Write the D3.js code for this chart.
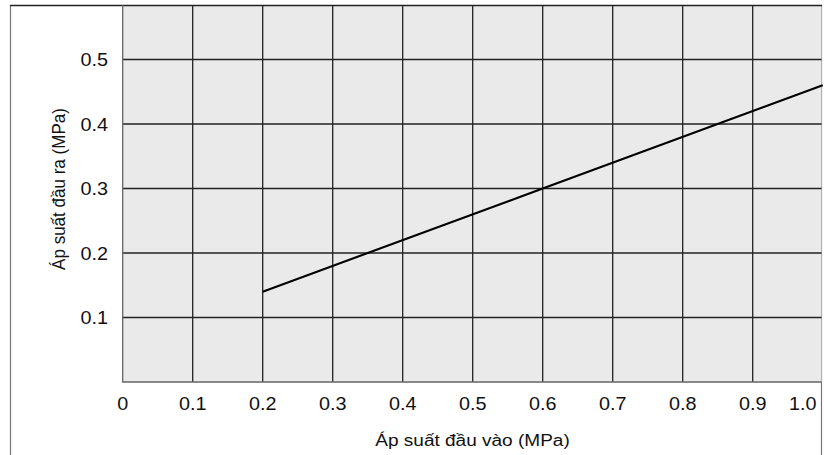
<!DOCTYPE html>
<html>
<head>
<meta charset="utf-8">
<script src="https://cdn.jsdelivr.net/npm/d3@7"></script>
<style>
  html, body { margin: 0; padding: 0; background: #fff; }
  svg { display: block; }
  text { font-family: "Liberation Sans", Arial, sans-serif; fill: #111; }
</style>
</head>
<body>
<svg id="chart" width="824" height="455"></svg>
<script>
// Data
const inputPressure = [0.2, 0.6, 1.0];      // MPa (x)
const outputPressure = [0.14, 0.30, 0.46];  // MPa (y)
const xTicks = [0, 0.1, 0.2, 0.3, 0.4, 0.5, 0.6, 0.7, 0.8, 0.9, 1.0];
const xTickLabels = ["0", "0.1", "0.2", "0.3", "0.4", "0.5", "0.6", "0.7", "0.8", "0.9", "1.0"];
const yTicks = [0.1, 0.2, 0.3, 0.4, 0.5];
const yTickLabels = ["0.1", "0.2", "0.3", "0.4", "0.5"];
const xTitle = "Áp suất đầu vào (MPa)";
const yTitle = "Áp suất đầu ra (MPa)";

const svg = d3.select("#chart");
const pLeft = 122.7, pRight = 822.7, pTop = 5, pBottom = 382, frameRight = 821.5;
const stretch = 1.1; // glyphs in the reference are slightly wider than tall

const x = d3.scaleLinear().domain([0, 1.0]).range([pLeft, pRight]);
const y = d3.scaleLinear().domain([0, 0.1]).range([pBottom, pBottom - 64.5]);

// outer frame
svg.append("path")
  .attr("d", `M10.5,455 V5.5 H${frameRight} V455`)
  .attr("fill", "none").attr("stroke", "#777").attr("stroke-width", 1.2);

// plot background
svg.append("rect")
  .attr("x", pLeft).attr("y", pTop)
  .attr("width", frameRight - pLeft).attr("height", pBottom - pTop)
  .attr("fill", "#e9eae9");

// grid: vertical
svg.append("g").selectAll("line")
  .data(xTicks.filter(d => d > 0 && d < 1.0))
  .join("line")
  .attr("x1", d => x(d)).attr("x2", d => x(d))
  .attr("y1", pTop).attr("y2", pBottom)
  .attr("stroke", "#222").attr("stroke-width", 1.3);

// grid: horizontal
svg.append("g").selectAll("line")
  .data(yTicks)
  .join("line")
  .attr("x1", pLeft).attr("x2", frameRight)
  .attr("y1", d => y(d)).attr("y2", d => y(d))
  .attr("stroke", "#222").attr("stroke-width", 1.3);

// top edge
svg.append("line")
  .attr("x1", 10).attr("x2", 822).attr("y1", 5.5).attr("y2", 5.5)
  .attr("stroke", "#222").attr("stroke-width", 1.3);

// left and bottom edges of plot
svg.append("path")
  .attr("d", `M${pLeft},${pTop} V${pBottom} H${frameRight}`)
  .attr("fill", "none").attr("stroke", "#666").attr("stroke-width", 1.3);

// line
const line = d3.line().x(d => x(d[0])).y(d => y(d[1]));
svg.append("path")
  .datum(inputPressure.map((v, i) => [v, outputPressure[i]]))
  .attr("d", line)
  .attr("fill", "none").attr("stroke", "#000").attr("stroke-width", 2.1);

// x tick labels
svg.append("g").selectAll("text")
  .data(xTicks)
  .join("text")
  .attr("transform", d => `translate(${x(d) + (d === 1.0 ? -20 : 0)},409.5) scale(${stretch},1)`)
  .attr("text-anchor", "middle")
  .attr("font-size", 18)
  .text((d, i) => xTickLabels[i]);

// y tick labels
svg.append("g").selectAll("text")
  .data(yTicks)
  .join("text")
  .attr("transform", d => `translate(108,${y(d) + 6.5}) scale(${stretch},1)`)
  .attr("text-anchor", "end")
  .attr("font-size", 18)
  .text((d, i) => yTickLabels[i]);

// axis titles
svg.append("text")
  .attr("transform", `translate(472.5,446) scale(${stretch},1)`)
  .attr("text-anchor", "middle")
  .attr("font-size", 17.3)
  .text(xTitle);

svg.append("text")
  .attr("transform", `translate(65,189) rotate(-90) scale(0.985,${stretch})`)
  .attr("text-anchor", "middle")
  .attr("font-size", 17.3)
  .text(yTitle);
</script>
</body>
</html>
